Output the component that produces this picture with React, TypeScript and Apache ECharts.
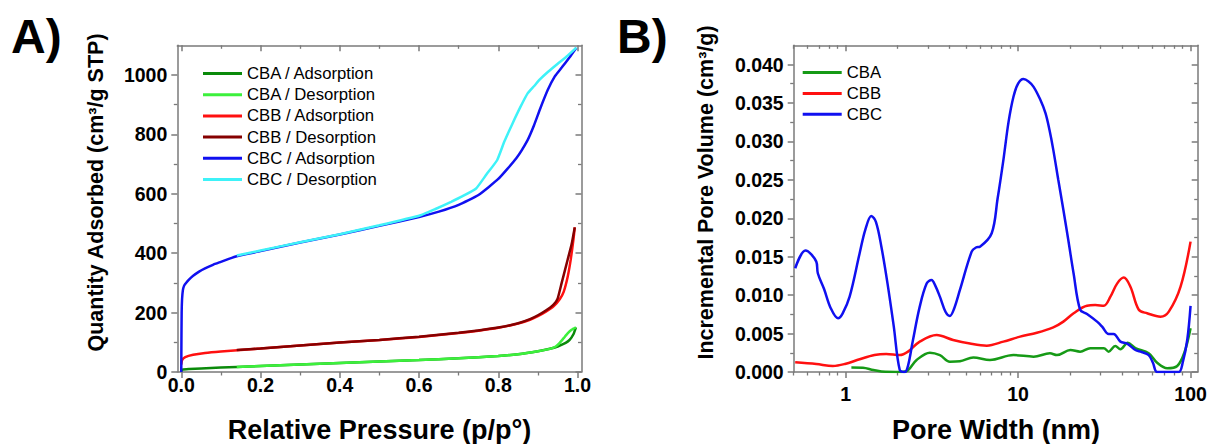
import React, { useEffect, useRef } from "react";
import * as echarts from "echarts";

// ---------- Panel A: N2 isotherms (relative pressure, quantity adsorbed) ----------
const cbaAdsP = [0, 0.003, 0.02, 0.05, 0.1, 0.14, 0.2, 0.3, 0.4, 0.5, 0.6, 0.7, 0.8, 0.85, 0.9, 0.93, 0.95, 0.97, 0.98, 0.99, 0.996];
const cbaAdsQ = [3, 8, 10, 12, 15, 17, 20, 25, 30, 35, 40, 46, 54, 60, 70, 78, 86, 98, 108, 128, 150];
const cbaDesP = [0.996, 0.985, 0.975, 0.965, 0.955, 0.945, 0.93, 0.9, 0.85, 0.8, 0.7, 0.6, 0.5, 0.4, 0.3, 0.2, 0.14];
const cbaDesQ = [150, 142, 130, 114, 98, 86, 78, 70, 60, 54, 46, 40, 35, 30, 25, 20, 17];

const cbbAdsP = [0, 0.002, 0.01, 0.03, 0.06, 0.1, 0.15, 0.2, 0.3, 0.4, 0.5, 0.6, 0.7, 0.75, 0.8, 0.85, 0.88, 0.9, 0.92, 0.94, 0.955, 0.965, 0.975, 0.983, 0.99, 0.993];
const cbbAdsQ = [25, 40, 50, 58, 64, 69, 74, 79, 89, 99, 108, 118, 131, 139, 149, 163, 176, 188, 203, 222, 245, 270, 320, 380, 450, 487];
const cbbDesP = [0.993, 0.985, 0.975, 0.96, 0.95, 0.94, 0.92, 0.9, 0.88, 0.85, 0.8, 0.7, 0.6, 0.5, 0.4, 0.3, 0.2, 0.14];
const cbbDesQ = [487, 430, 378, 300, 248, 228, 207, 191, 178, 164, 150, 132, 119, 108, 99, 89, 79, 74];

const cbcAdsP = [0, 0.0005, 0.001, 0.002, 0.004, 0.007, 0.012, 0.02, 0.03, 0.045, 0.06, 0.08, 0.1, 0.12, 0.14, 0.2, 0.3, 0.4, 0.5, 0.6, 0.65, 0.7, 0.75, 0.8, 0.845, 0.874, 0.89, 0.905, 0.925, 0.943, 0.96, 0.98, 0.997];
const cbcAdsQ = [0, 120, 200, 245, 275, 290, 300, 312, 324, 338, 349, 361, 371, 381, 390, 407, 436, 463, 492, 522, 540, 563, 596, 650, 719, 781, 830, 884, 950, 996, 1025, 1060, 1092];
const cbcDesP = [0.997, 0.975, 0.95, 0.925, 0.905, 0.89, 0.874, 0.855, 0.836, 0.815, 0.797, 0.77, 0.744, 0.71, 0.681, 0.64, 0.604, 0.5, 0.4, 0.3, 0.2, 0.14];
const cbcDesQ = [1092, 1065, 1038, 1010, 985, 962, 938, 890, 837, 775, 713, 665, 618, 592, 573, 548, 528, 494, 464, 437, 409, 392];

const xTicksA = [0, 0.2, 0.4, 0.6, 0.8, 1.0];
const xMinorA = [0.1, 0.3, 0.5, 0.7, 0.9];
const yTicksA = [0, 200, 400, 600, 800, 1000];
const yMinorA = [100, 300, 500, 700, 900];

// ---------- Panel B: pore size distribution (pore width nm, incremental pore volume) ----------
const cbaW = [1.08, 1.26, 1.45, 1.7, 2.06, 2.25, 2.58, 3.08, 3.52, 4.02, 4.6, 5.5, 6.87, 9.4, 12.3, 15.3, 16.8, 20.1, 22.9, 26.2, 31.4, 33.5, 36.6, 39.2, 43.2, 47.9, 57.2, 64, 73.2, 83.7, 92, 100];
const cbaV = [0.00058, 0.00055, 0.00025, 0.00002, 0, 0.0001, 0.00156, 0.00252, 0.0022, 0.00134, 0.0014, 0.0019, 0.00156, 0.0022, 0.002, 0.00243, 0.0022, 0.00286, 0.00265, 0.0031, 0.0031, 0.00265, 0.00338, 0.00295, 0.0038, 0.0031, 0.00243, 0.0012, 0.00048, 0.00078, 0.0025, 0.0057];

const cbbW = [0.51, 0.676, 0.844, 0.99, 1.206, 1.47, 1.72, 2.06, 2.3, 2.69, 3.37, 4.2, 5.26, 6.58, 8.22, 10.27, 12.85, 16, 18.3, 21, 25.1, 28, 31.4, 34.3, 37.5, 41, 44.8, 50.1, 56, 67, 74.8, 87.5, 100];
const cbbV = [0.00126, 0.00104, 0.00078, 0.00104, 0.00165, 0.0022, 0.00234, 0.0022, 0.00265, 0.00395, 0.0048, 0.00417, 0.0037, 0.00343, 0.00395, 0.0046, 0.0051, 0.0058, 0.00655, 0.00764, 0.00863, 0.0087, 0.00863, 0.0098, 0.0115, 0.01228, 0.0111, 0.0081, 0.00764, 0.0072, 0.00785, 0.0111, 0.01696];

const cbcW = [0.51, 0.585, 0.676, 0.69, 0.75, 0.82, 0.903, 0.96, 1.055, 1.206, 1.3, 1.41, 1.5, 1.612, 1.75, 1.9, 2.06, 2.2, 2.3, 2.45, 2.69, 2.95, 3.15, 3.3, 3.52, 3.8, 4.02, 4.25, 4.6, 5.38, 5.7, 6.01, 7.03, 7.6, 8.22, 8.8, 9.4, 10.0, 10.74, 11.5, 12.3, 13.4, 14.4, 15.2, 16.0, 17.1, 18.3, 19.6, 20.97, 22.9, 25.1, 28.7, 30.7, 33.5, 35.8, 39.2, 42.9, 47.9, 52, 57.2, 60.5, 64, 75, 85.5, 90, 95.7, 100];
const cbcV = [0.0135, 0.0158, 0.01436, 0.01285, 0.0108, 0.0083, 0.007, 0.0076, 0.0098, 0.01545, 0.0185, 0.0203, 0.0195, 0.0163, 0.0115, 0.006, 0.00026, 0, 0.0008, 0.004, 0.0085, 0.0115, 0.01198, 0.0113, 0.0098, 0.0078, 0.0073, 0.0082, 0.01067, 0.01566, 0.0162, 0.0163, 0.01805, 0.0225, 0.0276, 0.0325, 0.0358, 0.0375, 0.0381, 0.0378, 0.0371, 0.0355, 0.0337, 0.0315, 0.0289, 0.025, 0.0211, 0.017, 0.01285, 0.0081, 0.00755, 0.00655, 0.0059, 0.00495, 0.00495, 0.00395, 0.0037, 0.00286, 0.0026, 0.0022, 0.0012, 0, 0, 0, 0.0012, 0.0042, 0.0086];

const xTicksB = [1, 10, 100];
const xMinorB = [0.5, 0.6, 0.7, 0.8, 0.9, 2, 3, 4, 5, 6, 7, 8, 9, 20, 30, 40, 50, 60, 70, 80, 90];
const yTicksB = [0, 0.005, 0.01, 0.015, 0.02, 0.025, 0.03, 0.035, 0.04];
const yMinorB = [0.0025, 0.0075, 0.0125, 0.0175, 0.0225, 0.0275, 0.0325, 0.0375];

const FONT = '"Liberation Sans", Arial, Helvetica, sans-serif';
const AX = "#7a7a7a";

const zip = (xs: number[], ys: number[]) => xs.map((x, i) => [x, ys[i]]);
const zipLog = (xs: number[], ys: number[]) => xs.map((x, i) => [Math.log10(x), ys[i]]);

function axisSet(
  kind: "x" | "y",
  grid: number,
  min: number,
  max: number,
  major: number[],
  minor: number[],
  fmt: (v: number) => string,
  margin: number
) {
  const line = { show: true, onZero: false, lineStyle: { color: AX, width: 1.5 } };
  const noLine = { show: false, onZero: false };
  const pos = kind === "x" ? ["bottom", "top"] : ["left", "right"];
  const base = { gridIndex: grid, type: "value", min, max, splitLine: { show: false } };
  return [
    {
      ...base,
      position: pos[0],
      axisLine: line,
      axisTick: { show: true, customValues: major, length: 6, inside: false, lineStyle: { color: AX, width: 1.5 } },
      axisLabel: {
        show: true,
        customValues: major,
        formatter: fmt,
        margin,
        fontSize: 19.5,
        fontWeight: "bold",
        color: "#000",
        fontFamily: FONT,
      },
    },
    {
      ...base,
      position: pos[0],
      axisLine: noLine,
      axisTick: { show: true, customValues: minor, length: 3.5, inside: false, lineStyle: { color: AX, width: 1.3 } },
      axisLabel: { show: false },
    },
    {
      ...base,
      position: pos[1],
      axisLine: line,
      axisTick: { show: true, customValues: major, length: 6, inside: true, lineStyle: { color: AX, width: 1.5 } },
      axisLabel: { show: false },
    },
    {
      ...base,
      position: pos[1],
      axisLine: noLine,
      axisTick: { show: true, customValues: minor, length: 3.5, inside: true, lineStyle: { color: AX, width: 1.3 } },
      axisLabel: { show: false },
    },
  ];
}

function lineSeries(name: string, data: number[][], color: string, axisIdx: number, smooth: number | boolean) {
  return {
    name,
    type: "line",
    data,
    xAxisIndex: axisIdx,
    yAxisIndex: axisIdx,
    showSymbol: false,
    symbol: "none",
    smooth,
    lineStyle: { color, width: 2.5 },
    itemStyle: { color },
    clip: true,
  };
}

function txt(text: string, x: number, y: number, size: number, rotation = 0, align = "center") {
  return {
    type: "text",
    x,
    y,
    rotation,
    style: {
      text,
      fill: "#000",
      font: `bold ${size}px ${FONT}`,
      fontSize: size,
      fontWeight: "bold",
      fontFamily: FONT,
      align,
      textAlign: align,
      verticalAlign: "middle",
      textVerticalAlign: "middle",
    },
  };
}

export default function App() {
  const ref = useRef<HTMLDivElement>(null);

  useEffect(() => {
    if (!ref.current) return;
    const chart = echarts.init(ref.current, undefined, { renderer: "svg" });

    const legendText = { fontSize: 16.7, color: "#000", fontFamily: FONT };

    const option = {
      animation: false,
      backgroundColor: "#ffffff",
      grid: [
        { left: 177.3, top: 45.3, width: 404.2, height: 326.7 },
        { left: 793.7, top: 45.3, width: 404, height: 326.7 },
      ],
      xAxis: [
        ...axisSet("x", 0, -0.01, 1.01, xTicksA, xMinorA, (v: number) => v.toFixed(1), 3),
        ...axisSet(
          "x",
          1,
          Math.log10(0.5),
          Math.log10(110),
          xTicksB.map(Math.log10),
          xMinorB.map(Math.log10),
          (v: number) => String(Math.round(Math.pow(10, v))),
          12
        ),
      ],
      yAxis: [
        ...axisSet("y", 0, 0, 1100, yTicksA, yMinorA, (v: number) => String(Math.round(v)), 10),
        ...axisSet("y", 1, 0, 0.0425, yTicksB, yMinorB, (v: number) => v.toFixed(3), 10),
      ],
      legend: [
        {
          orient: "vertical",
          left: 203,
          top: 65,
          padding: 0,
          itemWidth: 39,
          itemHeight: 3,
          itemGap: 4.2,
          icon: "rect",
          selectedMode: false,
          textStyle: legendText,
          data: [
            "CBA / Adsorption",
            "CBA / Desorption",
            "CBB / Adsorption",
            "CBB / Desorption",
            "CBC / Adsorption",
            "CBC / Desorption",
          ],
        },
        {
          orient: "vertical",
          left: 802.7,
          top: 64,
          padding: 0,
          itemWidth: 39,
          itemHeight: 3,
          itemGap: 3.9,
          icon: "rect",
          selectedMode: false,
          textStyle: legendText,
          data: ["CBA", "CBB", "CBC"],
        },
      ],
      series: [
        lineSeries("CBA / Adsorption", zip(cbaAdsP, cbaAdsQ), "#0a8a0a", 0, 0.15),
        lineSeries("CBA / Desorption", zip(cbaDesP, cbaDesQ), "#3cf03c", 0, 0.15),
        lineSeries("CBB / Adsorption", zip(cbbAdsP, cbbAdsQ), "#ff1010", 0, 0.15),
        lineSeries("CBB / Desorption", zip(cbbDesP, cbbDesQ), "#850000", 0, 0.15),
        lineSeries("CBC / Adsorption", zip(cbcAdsP, cbcAdsQ), "#1010f0", 0, 0.15),
        lineSeries("CBC / Desorption", zip(cbcDesP, cbcDesQ), "#3ef2f8", 0, 0.15),
        lineSeries("CBA", zipLog(cbaW, cbaV), "#169a16", 4, 0.35),
        lineSeries("CBB", zipLog(cbbW, cbbV), "#ff1010", 4, 0.35),
        lineSeries("CBC", zipLog(cbcW, cbcV), "#1010f0", 4, 0.35),
      ],
      graphic: [
        txt("A)", 11, 36, 48, 0, "left"),
        txt("B)", 617, 36, 48, 0, "left"),
        txt("Relative Pressure (p/p°)", 379.5, 430, 27),
        txt("Pore Width (nm)", 996, 430, 27),
        txt("Quantity Adsorbed (cm³/g STP)", 95.5, 192.5, 21.5, Math.PI / 2),
        txt("Incremental Pore Volume (cm³/g)", 705.5, 192.5, 21.5, Math.PI / 2),
      ],
    };

    chart.setOption(option as any);
    return () => chart.dispose();
  }, []);

  return (
    <div
      ref={ref}
      style={{ position: "fixed", left: 0, top: 0, width: 1210, height: 444, background: "#fff" }}
    />
  );
}
